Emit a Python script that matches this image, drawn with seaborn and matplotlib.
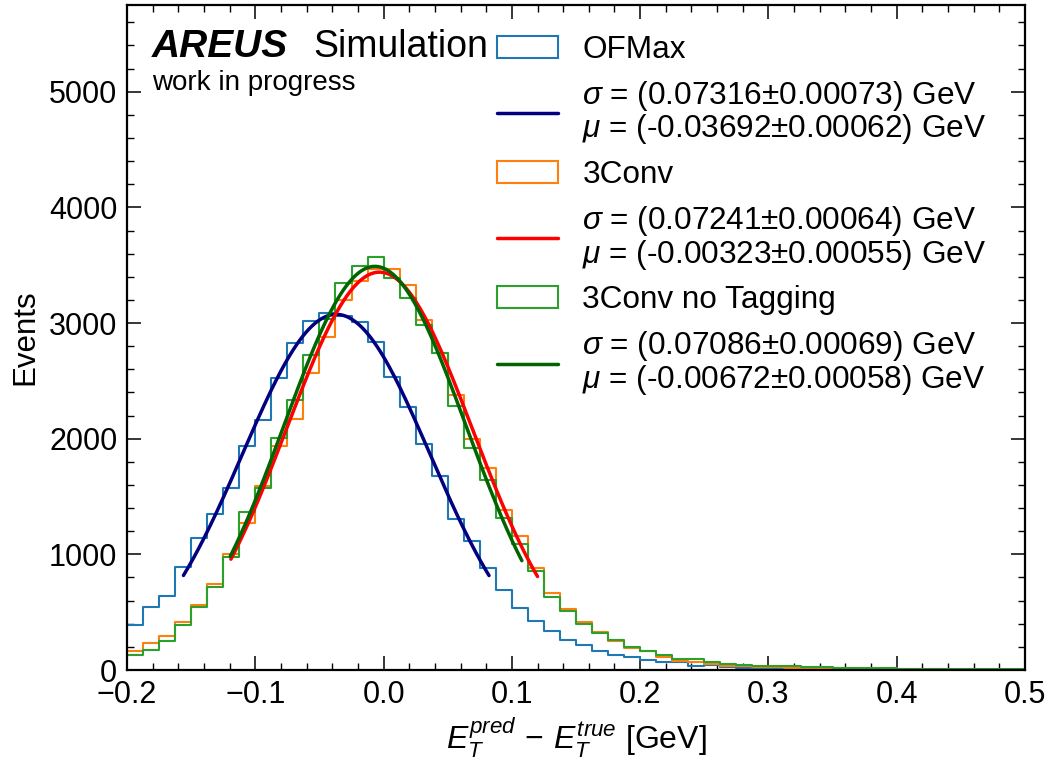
import numpy as np
import pandas as pd
import matplotlib
matplotlib.use("Agg")
import matplotlib.pyplot as plt
import seaborn as sns
from matplotlib.patches import Patch
from matplotlib.lines import Line2D
from matplotlib.ticker import MultipleLocator

# ---------------- data ----------------
bin_lo, bin_hi, bin_w = -0.2, 0.5, 0.0125

ofmax_counts = [389, 548, 643, 894, 1145, 1352, 1577, 1940, 2163, 2523, 2826, 3019,
                3086, 3060, 3013, 2840, 2537, 2278, 1955, 1681, 1306, 1119, 885, 692,
                540, 420, 338, 262, 213, 160, 133, 110, 90, 70, 66, 32, 40, 22, 18, 20,
                15, 12, 10, 8, 7, 6, 5, 4, 4, 3, 3, 2, 2, 2, 1, 1]
conv3_counts = [164, 231, 297, 418, 562, 741, 1001, 1274, 1594, 1940, 2167, 2566,
                2883, 3200, 3360, 3469, 3469, 3330, 3028, 2740, 2379, 1998, 1750, 1384,
                1159, 885, 663, 531, 412, 332, 255, 186, 160, 115, 82, 72, 50, 36, 35, 25,
                22, 20, 18, 15, 13, 12, 10, 8, 7, 6, 5, 4, 4, 3, 3, 2]
conv3_notag_counts = [130, 173, 254, 389, 548, 715, 980, 1364, 1571, 2004, 2336, 2725,
                      3036, 3345, 3495, 3570, 3388, 3215, 2984, 2740, 2287, 1918, 1644, 1312,
                      1090, 858, 634, 512, 398, 323, 256, 202, 164, 130, 92, 92, 72, 55, 45, 38,
                      36, 35, 29, 28, 20, 18, 16, 14, 12, 10, 9, 8, 7, 6, 5, 5]

series_names = ["OFMax", "3Conv", "3Conv no Tagging"]
hist_colors = ["#1f77b4", "#ff7f0e", "#2ca02c"]
fit_colors = ["navy", "red", "darkgreen"]

fit_sigma = [0.07316, 0.07241, 0.07086]
fit_sigma_err = ["0.00073", "0.00064", "0.00069"]
fit_mu = [-0.03692, -0.00323, -0.00672]
fit_mu_err = ["0.00062", "0.00055", "0.00058"]
fit_amp = [3075, 3440, 3490]
fit_lo = [-0.1560, -0.1190, -0.1195]
fit_hi = [0.0822, 0.1200, 0.1078]

# ---------------- style ----------------
sns.set_theme(style="ticks")
plt.rcParams.update({
    "font.family": ["Liberation Sans", "DejaVu Sans"],
    "mathtext.fontset": "custom",
    "mathtext.rm": "Liberation Sans",
    "mathtext.it": "Liberation Sans:italic",
    "mathtext.bf": "Liberation Sans:bold",
    "axes.linewidth": 1.6,
    "axes.unicode_minus": True,
    "text.color": "black",
    "axes.labelcolor": "black",
    "axes.edgecolor": "black",
    "xtick.color": "black",
    "ytick.color": "black",
})

fig = plt.figure(figsize=(10.52, 7.62), dpi=100)
ax = fig.add_axes([127 / 1052, 1 - 670 / 762, 898 / 1052, 665 / 762])

edges = np.round(np.arange(bin_lo, bin_hi + bin_w / 2, bin_w), 6)
centers = edges[:-1] + bin_w / 2

all_counts = [ofmax_counts, conv3_counts, conv3_notag_counts]
for counts, col in zip(all_counts, hist_colors):
    df = pd.DataFrame({"x": centers, "w": counts})
    sns.histplot(data=df, x="x", weights="w", bins=list(edges), element="step",
                 fill=False, color=col, linewidth=1.5, ax=ax)

for mu, sg, A, lo, hi, col in zip(fit_mu, fit_sigma, fit_amp, fit_lo, fit_hi, fit_colors):
    xs = np.linspace(lo, hi, 300)
    ys = A * np.exp(-0.5 * ((xs - mu) / sg) ** 2)
    sns.lineplot(x=xs, y=ys, color=col, linewidth=2.5, ax=ax, sort=False)

ax.set_xlim(-0.2, 0.5)
ax.set_ylim(0, 5750)
ax.xaxis.set_major_locator(MultipleLocator(0.1))
ax.xaxis.set_minor_locator(MultipleLocator(0.02))
ax.yaxis.set_major_locator(MultipleLocator(1000))
ax.yaxis.set_minor_locator(MultipleLocator(200))
ax.tick_params(which="both", direction="in", top=True, right=True, labelsize=22, pad=7)
ax.tick_params(which="major", length=10, width=1.1)
ax.tick_params(which="minor", length=5, width=1.0)

ax.set_xlabel(r"$E_T^{pred}\,-\,E_T^{true}$ [GeV]", fontsize=23)
ax.set_ylabel("Events", fontsize=22.5)
ax.yaxis.set_label_coords(-0.097, 0.5)

# experiment label
ax.text(25 / 898, (670 - 57) / 665, "AREUS", transform=ax.transAxes, fontsize=28,
        fontweight="bold", fontstyle="italic", va="baseline", ha="left")
ax.text((313 - 127) / 898, (670 - 57) / 665, "Simulation", transform=ax.transAxes,
        fontsize=27, va="baseline", ha="left")
ax.text(25 / 898, (670 - 90) / 665, "work in progress", transform=ax.transAxes,
        fontsize=20, va="baseline", ha="left")

# legend
handles, labels = [], []
for i in range(3):
    handles.append(Patch(facecolor="none", edgecolor=hist_colors[i], linewidth=1.5))
    labels.append(series_names[i])
    handles.append(Line2D([], [], color=fit_colors[i], linewidth=2.5))
    labels.append(
        r"$\sigma$ = (" + f"{fit_sigma[i]:.5f}" + r"$\pm$" + fit_sigma_err[i] + ") GeV\n"
        + r"$\mu$ = (" + f"{fit_mu[i]:.5f}" + r"$\pm$" + fit_mu_err[i] + ") GeV"
    )
leg = ax.legend(handles, labels, loc="upper left",
                bbox_to_anchor=((497 - 127) / 898, (670 - 35) / 665),
                frameon=False, fontsize=22.7, borderpad=0, borderaxespad=0,
                handlelength=1.93, handletextpad=0.78, labelspacing=0.44)
for t in leg.get_texts():
    t.set_linespacing(0.98)

fig.savefig("out.png", dpi=100)
